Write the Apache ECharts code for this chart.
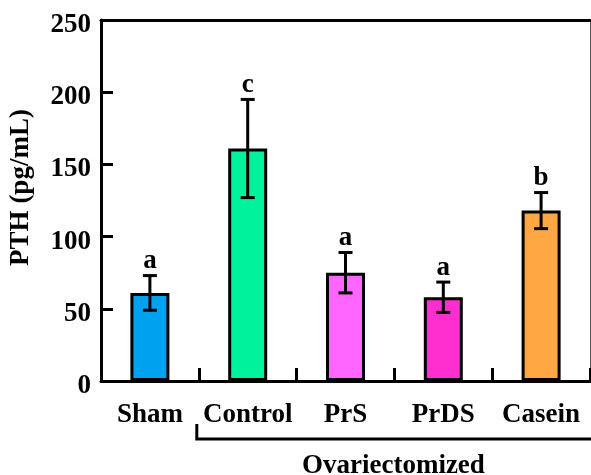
<!DOCTYPE html>
<html>
<head>
<meta charset="utf-8">
<script src="https://cdn.jsdelivr.net/npm/echarts@6/dist/echarts.min.js"></script>
<style>
html,body{margin:0;padding:0;background:#fff;}
#chart{width:591px;height:475px;}
</style>
</head>
<body>
<div id="chart"></div>
<script>
var categories = ['Sham', 'Control', 'PrS', 'PrDS', 'Casein'];
var pthMean = [61, 161, 75, 58, 118];
var pthSE = [12, 34, 14, 10.5, 12.5];
var sigLetters = ['a', 'c', 'a', 'a', 'b'];
var barColors = ['#00A2F0', '#00F29C', '#FF66FF', '#FF2ECF', '#FFA843'];
var yTicks = { min: 0, max: 250, interval: 50 };
var groupLabel = 'Ovariectomized';

var FONT = '"Liberation Serif", "Times New Roman", serif';

var chart = echarts.init(document.getElementById('chart'), null, { renderer: 'canvas' });

var errData = categories.map(function (c, i) {
  return [i, pthMean[i] - pthSE[i], pthMean[i] + pthSE[i], sigLetters[i]];
});

var option = {
  animation: false,
  backgroundColor: '#fff',
  grid: { left: 100, right: 1, top: 20, bottom: 94 },
  xAxis: [{
    type: 'category',
    data: categories,
    boundaryGap: true,
    axisLine: { onZero: false, lineStyle: { color: '#000', width: 3 } },
    axisTick: { show: true, inside: true, length: 13, interval: 0, lineStyle: { color: '#000', width: 3 } },
    axisLabel: { interval: 0, color: '#000', fontFamily: FONT, fontWeight: 'bold', fontSize: 27, margin: 21 }
  }, {
    type: 'category',
    data: categories,
    position: 'top',
    axisLine: { show: true, onZero: false, lineStyle: { color: '#000', width: 3 } },
    axisTick: { show: false },
    axisLabel: { show: false }
  }],
  yAxis: [{
    type: 'value',
    min: yTicks.min, max: yTicks.max, interval: yTicks.interval,
    name: 'PTH (pg/mL)',
    nameLocation: 'middle',
    nameGap: 66,
    nameTextStyle: { color: '#000', fontFamily: FONT, fontWeight: 'bold', fontSize: 27, padding: [0, 0, 0, 26] },
    splitLine: { show: false },
    axisLine: { show: true, onZero: false, lineStyle: { color: '#000', width: 3 } },
    axisTick: { show: true, inside: true, length: 12, lineStyle: { color: '#000', width: 3 } },
    axisLabel: {
      margin: 10,
      formatter: function (v) { return '{t|' + v + '}'; },
      rich: { t: { color: '#000', fontFamily: FONT, fontWeight: 'bold', fontSize: 27, padding: [10, 0, 0, 0] } }
    }
  }, {
    type: 'value',
    position: 'right',
    min: yTicks.min, max: yTicks.max, interval: yTicks.interval,
    splitLine: { show: false },
    axisLine: { show: true, onZero: false, lineStyle: { color: '#555', width: 1 } },
    axisTick: { show: false },
    axisLabel: { show: false }
  }],
  series: [{
    type: 'bar',
    data: pthMean.map(function (v, i) {
      return { value: v, itemStyle: { color: barColors[i] } };
    }),
    barWidth: 39,
    itemStyle: { borderColor: '#000', borderWidth: 3 },
    z: 2
  }, {
    type: 'custom',
    data: errData,
    z: 5,
    renderItem: function (params, api) {
      var x = api.value(0);
      var lo = api.coord([x, api.value(1)]);
      var hi = api.coord([x, api.value(2)]);
      var cap = 7;
      var st = { stroke: '#000', lineWidth: 3 };
      return {
        type: 'group',
        children: [
          { type: 'line', shape: { x1: lo[0], y1: lo[1], x2: hi[0], y2: hi[1] }, style: st },
          { type: 'line', shape: { x1: lo[0] - cap, y1: lo[1], x2: lo[0] + cap, y2: lo[1] }, style: st },
          { type: 'line', shape: { x1: hi[0] - cap, y1: hi[1], x2: hi[0] + cap, y2: hi[1] }, style: st },
          { type: 'text', style: {
              x: hi[0], y: hi[1] - 1, text: api.value(3),
              textAlign: 'center', textVerticalAlign: 'bottom',
              font: 'bold 27px ' + FONT, fill: '#000'
          } }
        ]
      };
    }
  }]
};
chart.setOption(option);

// Bracket under the ovariectomized groups, positioned from the category axis
var c0 = chart.convertToPixel({ xAxisIndex: 0 }, categories[0]);
var c1 = chart.convertToPixel({ xAxisIndex: 0 }, categories[1]);
var cLast = chart.convertToPixel({ xAxisIndex: 0 }, categories[categories.length - 1]);
var band = c1 - c0;
var bx1 = c1 - band / 2 - 2;
var bx2 = cLast + band / 2 + 10;
var axisY = chart.convertToPixel({ yAxisIndex: 0 }, 0);
var by = axisY + 58;
chart.setOption({
  graphic: [{
    type: 'polyline',
    shape: { points: [[bx1, by - 15], [bx1, by], [bx2, by]] },
    style: { stroke: '#000', lineWidth: 3, fill: null }
  }, {
    type: 'text',
    x: (bx1 + cLast + band / 2) / 2,
    y: by + 14,
    style: { text: groupLabel, textAlign: 'center', textVerticalAlign: 'top',
             font: 'bold 27px ' + FONT, fill: '#000' }
  }]
});
</script>
</body>
</html>
